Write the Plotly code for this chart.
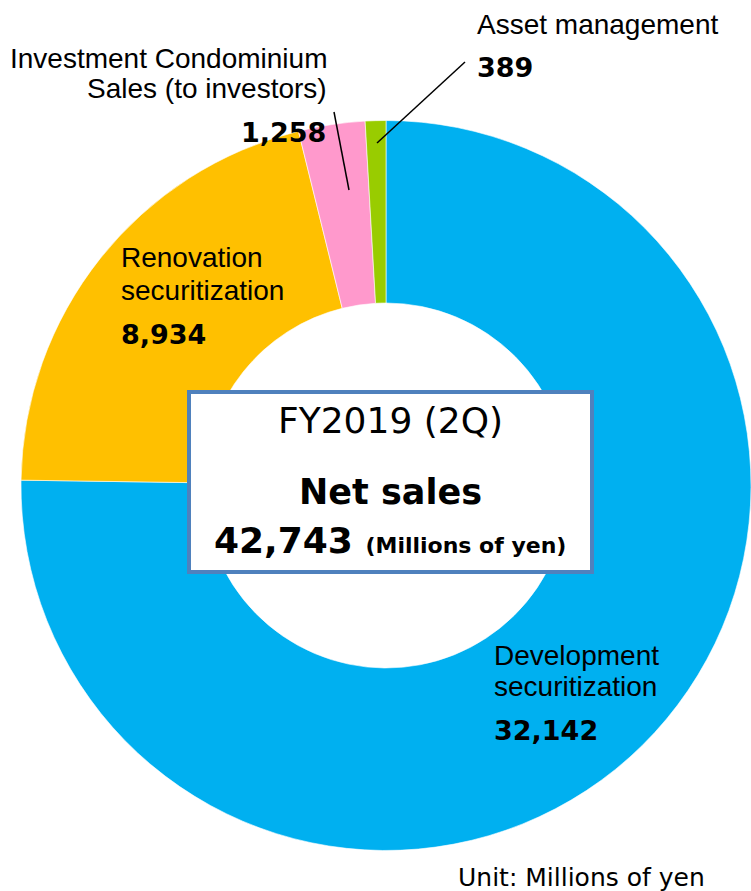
import plotly.graph_objects as go

W, H = 751, 891

segments = ["Development securitization", "Renovation securitization",
            "Investment Condominium Sales (to investors)", "Asset management"]
values = [32142, 8934, 1258, 389]
colors = ["#00B0F0", "#FFC000", "#FF99CC", "#99CC00"]
value_labels = ["32,142", "8,934", "1,258", "389"]
total_label = "42,743"

def px(x, y):
    return x / W, 1 - y / H

fig = go.Figure()
fig.add_trace(go.Pie(
    labels=segments, values=values, sort=False, direction="clockwise",
    rotation=0, hole=0.5, textinfo="none", hoverinfo="label+value",
    marker=dict(colors=colors, line=dict(color="white", width=0.6)),
    domain=dict(x=[21 / W, 751 / W], y=[1 - 850.5 / H, 1 - 120.5 / H]),
    showlegend=False,
))

shapes = []
x0, y0 = px(189, 392)
x1, y1 = px(592, 572)
shapes.append(dict(type="rect", xref="paper", yref="paper", x0=x0, y0=y1, x1=x1, y1=y0,
                   fillcolor="white", line=dict(color="#4F81BD", width=4), layer="above"))
for (ax, ay), (bx, by) in [((334, 112), (349, 190)), ((465, 62), (377, 143))]:
    a = px(ax, ay); b = px(bx, by)
    shapes.append(dict(type="line", xref="paper", yref="paper", x0=a[0], y0=a[1], x1=b[0], y1=b[1],
                       line=dict(color="black", width=1.5)))

LBL = "Liberation Sans, Arial, sans-serif"
NUM = "DejaVu Sans, Verdana, sans-serif"
ann = []
def add(text, x, y, size, family, anchor="left", bold=False):
    xx, yy = px(x, y)
    ann.append(dict(text=text, x=xx, y=yy, xref="paper", yref="paper", showarrow=False,
                    xanchor=anchor, yanchor="middle",
                    font=dict(size=size, family=family, color="black", weight="bold" if bold else "normal")))

add("Asset management", 475, 25, 28, LBL)
add(value_labels[3], 475, 68, 27, NUM, bold=True)
add("Investment Condominium", 329, 58, 28, LBL, anchor="right")
add("Sales (to investors)", 329, 89, 28, LBL, anchor="right")
add(value_labels[2], 328, 132, 27, NUM, anchor="right", bold=True)
add("Renovation", 119, 257, 28, LBL)
add("securitization", 119, 290, 28, LBL)
add(value_labels[1], 119, 334, 27, NUM, bold=True)
add("Development", 492, 655, 28, LBL)
add("securitization", 492, 686, 28, LBL)
add(value_labels[0], 492, 730, 27, NUM, bold=True)
add("Unit: Millions of yen", 456, 877, 25, NUM)

add("FY2019 (2Q)", 390, 421, 36, NUM, anchor="center")
add("Net sales", 390, 492, 35, NUM, anchor="center", bold=True)
add(total_label + " <span style='font-size:22px'>(Millions of yen)</span>", 390, 540, 36, NUM,
    anchor="center", bold=True)

fig.update_layout(width=W, height=H, margin=dict(l=0, r=0, t=0, b=0),
                  paper_bgcolor="white", plot_bgcolor="white",
                  shapes=shapes, annotations=ann)
fig.write_html("out.html", config={"displayModeBar": False},
               post_script="document.body.style.margin='0';")
